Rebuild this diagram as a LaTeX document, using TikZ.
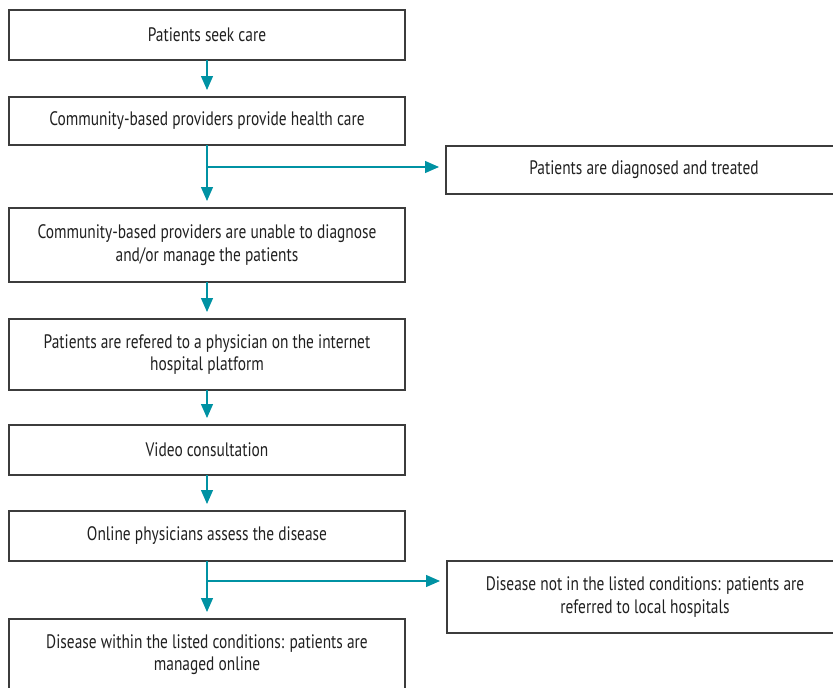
\documentclass[tikz,border=0pt]{standalone}
\usepackage{fontspec}
\setmainfont{PT Sans}[FakeStretch=0.79]
\usepackage{tikz}
\usetikzlibrary{arrows.meta,positioning}
\definecolor{flowteal}{RGB}{0,146,163}
\definecolor{boxline}{RGB}{60,60,60}
\definecolor{boxtext}{RGB}{32,32,32}

\begin{document}
\begin{tikzpicture}[x=1pt,y=-1pt,>={Triangle[length=14pt,width=12pt]},
  font=\fontsize{19.5}{22.3}\selectfont,node distance=37pt,
  flowbox/.style={draw=boxline,line width=1.2pt,text=boxtext,align=center,
                  minimum width=396pt,minimum height=50pt,inner sep=0pt,outer sep=0pt},
  link/.style={->,draw=flowteal,fill=flowteal,line width=1.3pt,shorten >=7pt}]
\clip (0,0) rectangle (833,688);
% main column
\node[flowbox] (seek) at (207,35) {Patients seek care};
\node[flowbox,minimum height=48pt,below=of seek] (provide) {Community-based providers provide health care};
\node[flowbox,minimum height=74pt,below=63pt of provide] (unable) {Community-based providers are unable to diagnose\\and/or manage the patients};
\node[flowbox,minimum height=71pt,below=of unable] (refer) {Patients are refered to a physician on the internet\\hospital platform};
\node[flowbox,below=35pt of refer] (video) {Video consultation};
\node[flowbox,below=36pt of video] (assess) {Online physicians assess the disease};
\node[flowbox,minimum height=72pt,below=58pt of assess] (online) {Disease within the listed conditions: patients are\\managed online};
% side outcomes
\node[flowbox,minimum height=48pt,anchor=west] (treated) at (446,170) {Patients are diagnosed and treated};
\node[flowbox,minimum height=72pt,anchor=west] (local) at (447,597) {Disease not in the listed conditions: patients are\\referred to local hospitals};
\coordinate (fork1) at (provide.south |- 0,167);
\coordinate (fork2) at (assess.south |- 0,581);
\draw[link] (seek) -- (provide);
\draw[link] (provide) -- (unable);
\draw[link] (fork1) -- (treated.west |- fork1);
\draw[link] (unable) -- (refer);
\draw[link] (refer) -- (video);
\draw[link] (video) -- (assess);
\draw[link] (assess) -- (online);
\draw[link] (fork2) -- (local.west |- fork2);
\end{tikzpicture}
\end{document}
